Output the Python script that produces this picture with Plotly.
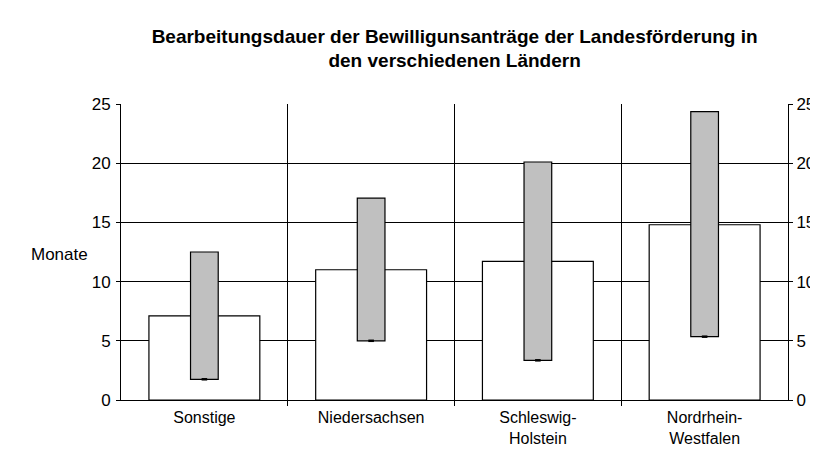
import plotly.graph_objects as go

categories = ["Sonstige", "Niedersachsen", "Schleswig-<br>Holstein", "Nordrhein-<br>Westfalen"]
mean_values = [7.1, 11.0, 11.7, 14.8]
range_min = [1.75, 5.0, 3.35, 5.35]
range_max = [12.5, 17.05, 20.1, 24.35]
y_ticks = [0, 5, 10, 15, 20, 25]

x = list(range(len(categories)))
font = "Liberation Sans, Arial, sans-serif"

fig = go.Figure()
fig.add_trace(go.Bar(
    x=x, y=mean_values, width=0.665,
    marker=dict(color="white", line=dict(color="black", width=1.2)),
    showlegend=False, hoverinfo="skip",
))
fig.add_trace(go.Bar(
    x=x, y=[b - a for a, b in zip(range_min, range_max)], base=range_min, width=0.166,
    marker=dict(color="#c0c0c0", line=dict(color="black", width=1.2)),
    showlegend=False, hoverinfo="skip",
))
# small dash at the lower end of each range bar
fig.add_trace(go.Scatter(
    x=x, y=range_min, mode="markers",
    marker=dict(symbol="line-ew", size=4, line=dict(color="black", width=2.5)),
    showlegend=False, hoverinfo="skip",
))
# empty trace so the right-hand axis is drawn
fig.add_trace(go.Scatter(x=[], y=[], yaxis="y2", showlegend=False))

fig.update_layout(
    width=818, height=450,
    margin=dict(l=113, r=38, t=96, b=58, autoexpand=False),
    paper_bgcolor="white", plot_bgcolor="white",
    barmode="overlay",
    title=dict(
        text="Bearbeitungsdauer der Bewilligunsanträge der Landesförderung in<br>den verschiedenen Ländern",
        x=0.546, xanchor="center", y=0.923, yanchor="middle",
        font=dict(family=font, size=19, color="black", weight="bold"),
    ),
    font=dict(family=font, size=17, color="black"),
    xaxis=dict(
        range=[-0.5, len(categories) - 0.5], automargin=False,
        tickmode="array", tickvals=x, ticktext=categories,
        tickfont=dict(size=16),
        ticks="", showgrid=False, zeroline=False,
        showline=True, linecolor="black", linewidth=1,
        ticklabelstandoff=3,
        minor=dict(tickmode="array", tickvals=[i + 0.5 for i in x[:-1]],
                   ticks="outside", ticklen=5, tickcolor="black",
                   showgrid=True, gridcolor="black", gridwidth=1),
    ),
    yaxis=dict(
        range=[0, 25], tickvals=y_ticks, automargin=False,
        ticks="outside", ticklen=4, tickcolor="black",
        showgrid=True, gridcolor="black", gridwidth=1,
        zeroline=False, showline=True, linecolor="black", linewidth=1,
        ticklabelstandoff=2,
    ),
    yaxis2=dict(
        range=[0, 25], tickvals=y_ticks, automargin=False,
        overlaying="y", side="right",
        ticks="outside", ticklen=4, tickcolor="black",
        showgrid=False, zeroline=False, showline=True, linecolor="black", linewidth=1,
        ticklabelstandoff=0,
    ),
    annotations=[dict(
        text="Monate", xref="paper", yref="paper", x=-0.046, y=0.49,
        xanchor="right", yanchor="middle", showarrow=False,
        font=dict(family=font, size=17, color="black"),
    )],
)

fig.write_html("out.html")
